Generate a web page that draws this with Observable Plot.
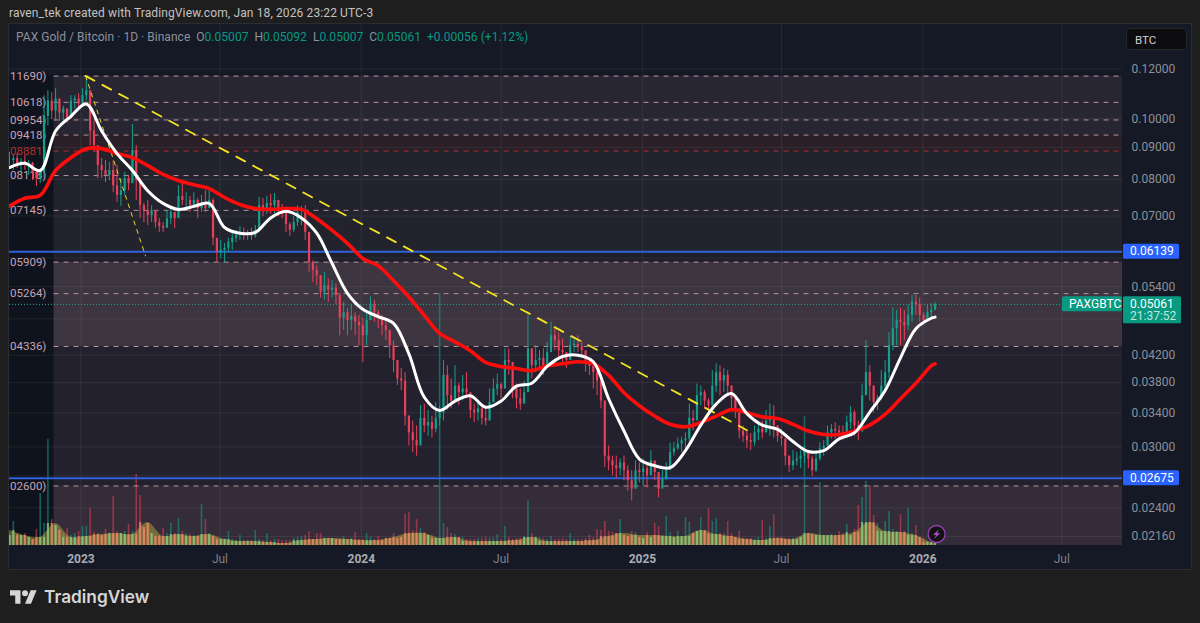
<!DOCTYPE html>
<html>
<head>
<meta charset="utf-8">
<script src="https://cdn.jsdelivr.net/npm/d3@7"></script>
<script src="https://cdn.jsdelivr.net/npm/@observablehq/plot@0.6"></script>
<style>
html,body{margin:0;padding:0;background:#1e1e1e;width:1200px;height:623px;overflow:hidden;font-family:Roboto,sans-serif}
#attr{height:24px;line-height:26px;padding-left:9px;font-size:12px;color:#c2c2c2;letter-spacing:.12px;box-sizing:border-box}
#chart{margin-left:9px;width:1182px;height:545px;outline:1px solid #2a2c32;position:relative}
#chart svg{display:block}
#legend{position:absolute;left:7px;top:6px;font-size:12px;letter-spacing:.03px;color:#8e919a;white-space:pre}
#legend b{font-weight:400;color:#089981}
#btc{position:absolute;left:1117px;top:4px;width:61px;height:22px;line-height:22px;box-sizing:border-box;padding-left:8px;background:#0d0d0f;border:1px solid #24262c;border-radius:4px;color:#d0d0d0;font-size:11.5px}
#foot{display:flex;align-items:center;padding:17px 0 0 10px;color:#d6d6d6;font-size:17.3px;font-weight:600;font-family:Inter,Roboto,sans-serif}
#foot svg{margin-right:7px}
</style>
</head>
<body>
<div id="attr">raven_tek created with TradingView.com, Jan 18, 2026 23:22 UTC-3</div>
<div id="chart">
  <div id="legend">PAX Gold / Bitcoin · 1D · Binance  O<b>0.05007</b>  H<b>0.05092</b>  L<b>0.05007</b>  C<b>0.05061</b>  <b>+0.00056 (+1.12%)</b></div>
  <div id="btc">BTC</div>
</div>
<div id="foot"><svg width="27" height="14" viewBox="0 4 36 18"><path fill="#d6d6d6" d="M14 22H7V11H0V4h14v18zM28 22h-8l7.5-18h8L28 22z"/><circle fill="#d6d6d6" cx="20" cy="8" r="4"/></svg>TradingView</div>
<script>
// Candles: one candle per 5 days from 2022-09-30, prices in 1e-4 BTC
const candleHigh = [
884,874,880,864,874,858,852,833,833,1088,
1108,1100,1116,1067,1047,1036,1088,1088,1096,1116,
1167,1108,990,896,864,858,852,858,842,803,
821,812,979,906,803,733,741,727,709,693,
683,714,719,709,782,788,762,752,762,746,
755,768,768,746,640,640,633,645,659,664,
673,669,664,669,676,749,746,752,758,760,
741,730,704,683,698,727,725,727,650,594,
583,562,569,556,552,546,527,510,499,505,
491,486,481,495,520,514,495,486,477,456,
443,400,400,394,336,330,324,349,351,343,
336,353,349,412,404,385,404,379,390,394,
366,351,355,349,345,371,385,392,379,430,
430,390,378,371,382,486,430,435,427,430,
440,474,463,456,446,424,450,446,451,443,
424,415,409,404,382,355,301,290,290,287,
290,280,275,285,283,287,283,296,283,273,
275,283,304,305,310,311,316,351,343,378,
375,369,358,397,407,404,400,397,375,358,
340,324,318,315,324,330,330,343,351,349,
324,320,307,290,296,294,296,301,296,290,
296,305,307,324,326,328,324,324,336,348,
343,330,378,443,404,375,362,397,412,456,
499,495,499,495,505,523,523,518,491,505,508,510];
const candleLow = [
843,827,833,821,827,812,797,780,788,803,
973,997,990,990,983,983,1009,1036,1036,1051,
1067,906,884,803,803,791,797,762,736,725,
755,768,821,741,693,683,676,683,669,659,
659,673,678,669,701,727,714,709,719,693,
709,709,727,628,590,599,590,612,617,635,
640,640,640,640,645,659,698,704,704,706,
698,693,659,650,659,673,676,640,569,548,
542,518,514,510,518,505,451,460,451,460,
451,435,409,435,477,474,463,451,443,415,
394,376,369,324,301,294,290,307,316,312,
310,316,324,330,343,345,355,349,355,358,
333,328,330,325,324,330,353,362,358,375,
390,358,345,343,353,371,385,394,397,390,
400,427,427,412,409,400,415,424,424,415,
394,390,371,362,345,278,275,270,267,270,
265,255,246,257,263,260,258,270,265,249,
260,265,277,290,296,294,298,305,318,340,
349,345,336,353,366,362,366,362,345,333,
309,305,298,296,301,307,309,316,312,310,
305,301,280,273,275,280,277,283,277,269,
273,285,290,301,309,309,307,307,309,320,
312,307,316,362,355,340,343,355,366,385,
427,435,435,443,460,474,486,474,468,474,477,495];
const candleClose = [
858,864,849,855,842,849,821,803,821,1009,
1067,1028,1075,1021,1036,1000,1067,1075,1055,1088,
1108,956,906,842,827,812,827,782,755,768,
803,788,890,797,727,714,701,714,683,673,
669,693,709,693,752,741,741,727,741,719,
727,719,741,645,612,617,622,635,645,652,
659,652,657,650,664,727,719,733,727,741,
719,714,678,664,683,709,709,659,590,573,
562,529,542,533,537,523,481,491,477,484,
474,468,451,477,505,491,481,468,460,435,
412,385,382,336,316,307,301,333,324,328,
320,333,340,390,362,355,375,366,371,366,
343,340,345,333,330,353,371,377,371,412,
409,371,358,351,366,430,404,412,415,404,
424,451,443,427,424,412,435,437,433,427,
409,403,394,382,355,290,285,280,277,283,
275,265,257,275,273,277,270,285,273,257,
267,275,294,298,303,307,309,333,330,362,
366,355,349,375,394,382,390,375,358,345,
318,312,307,305,316,320,316,330,333,324,
312,309,290,280,285,287,290,296,287,275,
287,298,301,316,320,318,316,312,328,340,
324,318,362,394,375,353,358,375,394,435,
463,477,474,468,486,510,505,486,477,491,495,506];
// Volume per candle (relative units)
const candleVolume = [
10,24,12,10,12,8,6,16,52,22,
106,26,20,15,12,17,10,12,14,19,
19,37,13,12,10,16,12,49,14,12,
14,21,14,71,50,18,22,12,10,10,
17,12,22,12,27,14,12,11,10,10,
41,26,12,9,7,6,7,14,6,5,
10,5,5,5,15,6,5,12,5,6,
6,5,5,5,7,8,9,10,14,6,
12,12,7,7,7,6,6,9,6,7,
13,6,6,12,8,6,9,6,7,7,
12,7,8,31,33,15,26,17,13,10,
10,8,252,22,18,12,11,8,8,6,
6,6,7,7,8,7,8,11,6,19,
8,6,7,7,9,45,12,8,8,7,
6,9,6,6,7,6,12,6,6,6,
7,10,8,16,15,24,14,13,12,26,
10,9,14,13,8,7,13,8,22,19,
10,29,13,8,14,9,28,23,12,14,
28,15,37,24,27,12,12,24,12,8,
14,7,7,7,6,8,25,7,19,31,
8,8,7,7,7,6,8,129,12,11,
10,63,10,10,11,10,14,12,21,10,
16,40,48,64,60,30,22,14,24,34,
16,14,31,14,37,12,20,8,7,4,3,2];
// Moving averages sampled every 4th candle plus the last one
const maWhite = [836,849,827,956,1009,1055,956,880,827,768,733,717,725,733,671,657,659,695,712,695,657,588,527,497,484,472,422,360,343,355,362,347,355,375,379,403,418,420,410,358,318,287,280,278,296,325,351,365,339,325,320,306,295,296,309,316,341,369,416,463,481,483];
const maRed = [726,747,755,827,867,896,896,880,867,842,815,797,785,774,749,730,719,717,719,717,693,664,633,599,583,552,520,486,455,441,427,409,403,400,397,404,407,410,407,390,366,349,336,326,323,328,336,344,340,335,333,326,318,314,314,318,325,338,358,379,404,407];
const volumeMA = [15,10,8,22,8,9,11,12,11,23,9,11,9,11,6,4,4,3,2,5,6,7,6,5,5,8,12,12,7,8,4,4,4,5,8,4,4,4,5,9,12,10,10,9,9,15,11,9,6,5,7,6,12,10,10,13,23,14,13,10,3,2];

// Horizontal levels
const fibLevels = [0.11690,0.10618,0.09954,0.09418,0.08881,0.08118,0.07145,0.05909,0.05264,0.04336,0.02600];
const fibLabels = ["11690)","10618)","09954)","09418)","08881)","08118)","07145)","05909)","05264)","04336)","02600)"];
const fibColors = ["#b8929f","#b8929f","#b8929f","#b8929f","#b0302c","#b8929f","#b8929f","#b8929f","#b8929f","#b8929f","#b8929f"];
const bandTop    = [0.11690,0.09418,0.08881,0.06139,0.05909,0.04336,0.02600];
const bandBottom = [0.09418,0.08881,0.06139,0.05909,0.04336,0.02600,0.02090];
const bandFill   = ["#272632","#2b2028","#23232e","#1f1f2a","#3d3540","#22212d","#342c38"];
const blueLevels = [0.06139,0.02675];
const lastPrice = 0.05061;
const priceTicks = [0.12,0.10,0.09,0.08,0.07,0.06,0.054,0.048,0.042,0.038,0.034,0.03,0.027,0.024,0.0216];
const yearTicks = ["2023-01-01","2024-01-01","2025-01-01","2026-01-01"].map(d=>new Date(d));
const julTicks = ["2023-07-01","2024-07-01","2025-07-01","2026-07-01"].map(d=>new Date(d));
const trendFrom = [new Date("2023-01-07"),0.1170];
const trendLong = [trendFrom,[new Date("2025-05-17"),0.0319]];
const trendSteep = [trendFrom,[new Date("2023-03-26"),0.0605]];

const start = new Date("2022-09-30");
const fibStart = new Date("2022-11-27");
const labelAt = new Date("2022-11-17");
const xEnd = new Date("2026-09-18");
const up = "#14a08c", down = "#e8405a";
const volBase = 0.0209;
const volToY = v => volBase*Math.exp(v/272.6);

const candles = candleClose.map((c,i)=>({
  date:d3.utcDay.offset(start,5*i),
  h:candleHigh[i]/1e4,l:candleLow[i]/1e4,c:c/1e4,
  o:(i?candleClose[i-1]:c)/1e4,
  v:candleVolume[i]
}));
const maRows = candles.filter((d,i)=>i%4===0||i===candles.length-1)
  .map((d,i)=>({date:d.date,white:maWhite[i]/1e4,red:maRed[i]/1e4,vol:volumeMA[i]}));
candles.forEach((d,i)=>{d.vm=volumeMA[Math.min(Math.round(i/4),volumeMA.length-1)]});
const bands = bandTop.map((t,i)=>({t,b:bandBottom[i],f:bandFill[i]}));
const fibs = fibLevels.map((y,i)=>({y,label:fibLabels[i],color:fibColors[i]}));

function tags(index,scales){
  const g = d3.create("svg:g").attr("font-size",12).attr("text-anchor","start");
  const X = scales.x(xEnd);
  const tag = (price,x,w,y0,h,fill,lines)=>{
    const Y = scales.y(price);
    g.append("rect").attr("x",x).attr("y",Y+y0).attr("width",w).attr("height",h).attr("rx",1.5).attr("fill",fill);
    lines.forEach((t,i)=>g.append("text").attr("x",x+7).attr("y",Y+y0+11.5+i*12.5).attr("fill",i?"#bfe8de":"#fff").text(t));
  };
  blueLevels.forEach(p=>tag(p,X+1,56,-7.5,15,"#2962ff",[p.toFixed(5)]));
  tag(lastPrice,X+1,58,-7.5,27,"#089981",[lastPrice.toFixed(5),"21:37:52"]);
  tag(lastPrice,X-60,60,-7.5,15,"#089981",["PAXGBTC"]);
  const ix = scales.x(candles[candles.length-1].date)+2, iy = scales.y(volBase)-11;
  g.append("circle").attr("cx",ix).attr("cy",iy).attr("r",8.5).attr("fill","#121212").attr("stroke","#9b3fb8").attr("stroke-width",1.3);
  g.append("path").attr("transform",`translate(${ix},${iy})`).attr("d","M2.5-5L-3.5 1H-.5L-2.5 5L3.5-1H.5Z").attr("fill","#a84cc6");
  return g.node();
}

const chart = Plot.plot({
  width:1182,height:545,
  marginLeft:0,marginRight:69,marginTop:0,marginBottom:24,
  style:{background:"#141925",fontFamily:"Roboto,sans-serif",fontSize:"12px",overflow:"hidden"},
  x:{type:"utc",domain:[new Date("2022-09-30"),xEnd],axis:null},
  y:{type:"log",domain:[0.12,0.0216],range:[44.5,512],axis:null},
  marks:[
    Plot.rect([0],{x1:()=>start,x2:()=>fibStart,y1:()=>0.1169,y2:()=>volBase,fill:"#0f131d"}),
    Plot.rect(bands,{x1:()=>fibStart,x2:()=>xEnd,y1:"t",y2:"b",fill:"f"}),
    Plot.gridY(priceTicks,{stroke:"#fff",strokeOpacity:.065}),
    Plot.gridX(yearTicks.concat(julTicks),{stroke:"#fff",strokeOpacity:.065}),
    // volume
    Plot.ruleX(candles,{x:"date",y1:volBase,y2:d=>volToY(d.v),stroke:d=>d.c>=d.o?up:down,strokeOpacity:.55,strokeWidth:1.6}),
    Plot.areaY(maRows,{x:"date",y1:volBase,y2:d=>volToY(d.vol),fill:"#b9a640",fillOpacity:.5,curve:"catmull-rom"}),
    Plot.ruleX(candles,{x:"date",y1:volBase,y2:d=>volToY(Math.min(d.v,d.vm)),stroke:d=>d.c>=d.o?"#8ccf80":"#ee8c6a",strokeOpacity:.75,strokeWidth:2.2}),
    // levels
    Plot.ruleY(fibs,{y:"y",x1:()=>fibStart,x2:()=>xEnd,stroke:"color",strokeWidth:1,strokeDasharray:"5,5"}),
    Plot.text(fibs,{x:()=>labelAt,y:"y",text:"label",fill:d=>d.color==="#b8929f"?"#c9a3b4":d.color,textAnchor:"end",fontSize:11.5}),
    Plot.ruleY(blueLevels,{stroke:"#2f62dc",strokeWidth:2}),
    Plot.ruleY([lastPrice],{stroke:"#1fae97",strokeWidth:1,strokeDasharray:"1,2"}),
    // candles
    Plot.ruleX(candles,{x:"date",y1:"l",y2:"h",stroke:d=>d.c>=d.o?up:down,strokeWidth:1}),
    Plot.ruleX(candles,{x:"date",y1:"o",y2:"c",stroke:d=>d.c>=d.o?up:down,strokeWidth:2.2}),
    // trend lines
    Plot.line(trendLong,{x:"0",y:"1",stroke:"#f4e41f",strokeWidth:1.8,strokeDasharray:"10,9"}),
    Plot.line(trendSteep,{x:"0",y:"1",stroke:"#e6d828",strokeWidth:1,strokeDasharray:"4,5"}),
    // moving averages
    Plot.line(maRows,{x:"date",y:"red",stroke:"#ff0d0d",strokeWidth:3.6,curve:"catmull-rom"}),
    Plot.line(maRows,{x:"date",y:"white",stroke:"#fff",strokeWidth:3,curve:"catmull-rom"}),
    // axes
    Plot.axisY(priceTicks.filter(t=>t!==0.048&&t!==0.027&&t!==0.06),{anchor:"right",tickSize:0,tickPadding:9,tickFormat:d=>d.toFixed(5),fill:"#8e919a",fontSize:12,label:null}),
    Plot.axisX(yearTicks,{anchor:"bottom",tickSize:0,tickPadding:9,tickFormat:"%Y",fill:"#a9acb4",fontWeight:"bold",fontSize:12,label:null}),
    Plot.axisX(julTicks,{anchor:"bottom",tickSize:0,tickPadding:9,tickFormat:()=>"Jul",fill:"#7d808a",fontSize:12,label:null}),
    tags
  ]
});
document.getElementById("chart").prepend(chart);
</script>
</body>
</html>
